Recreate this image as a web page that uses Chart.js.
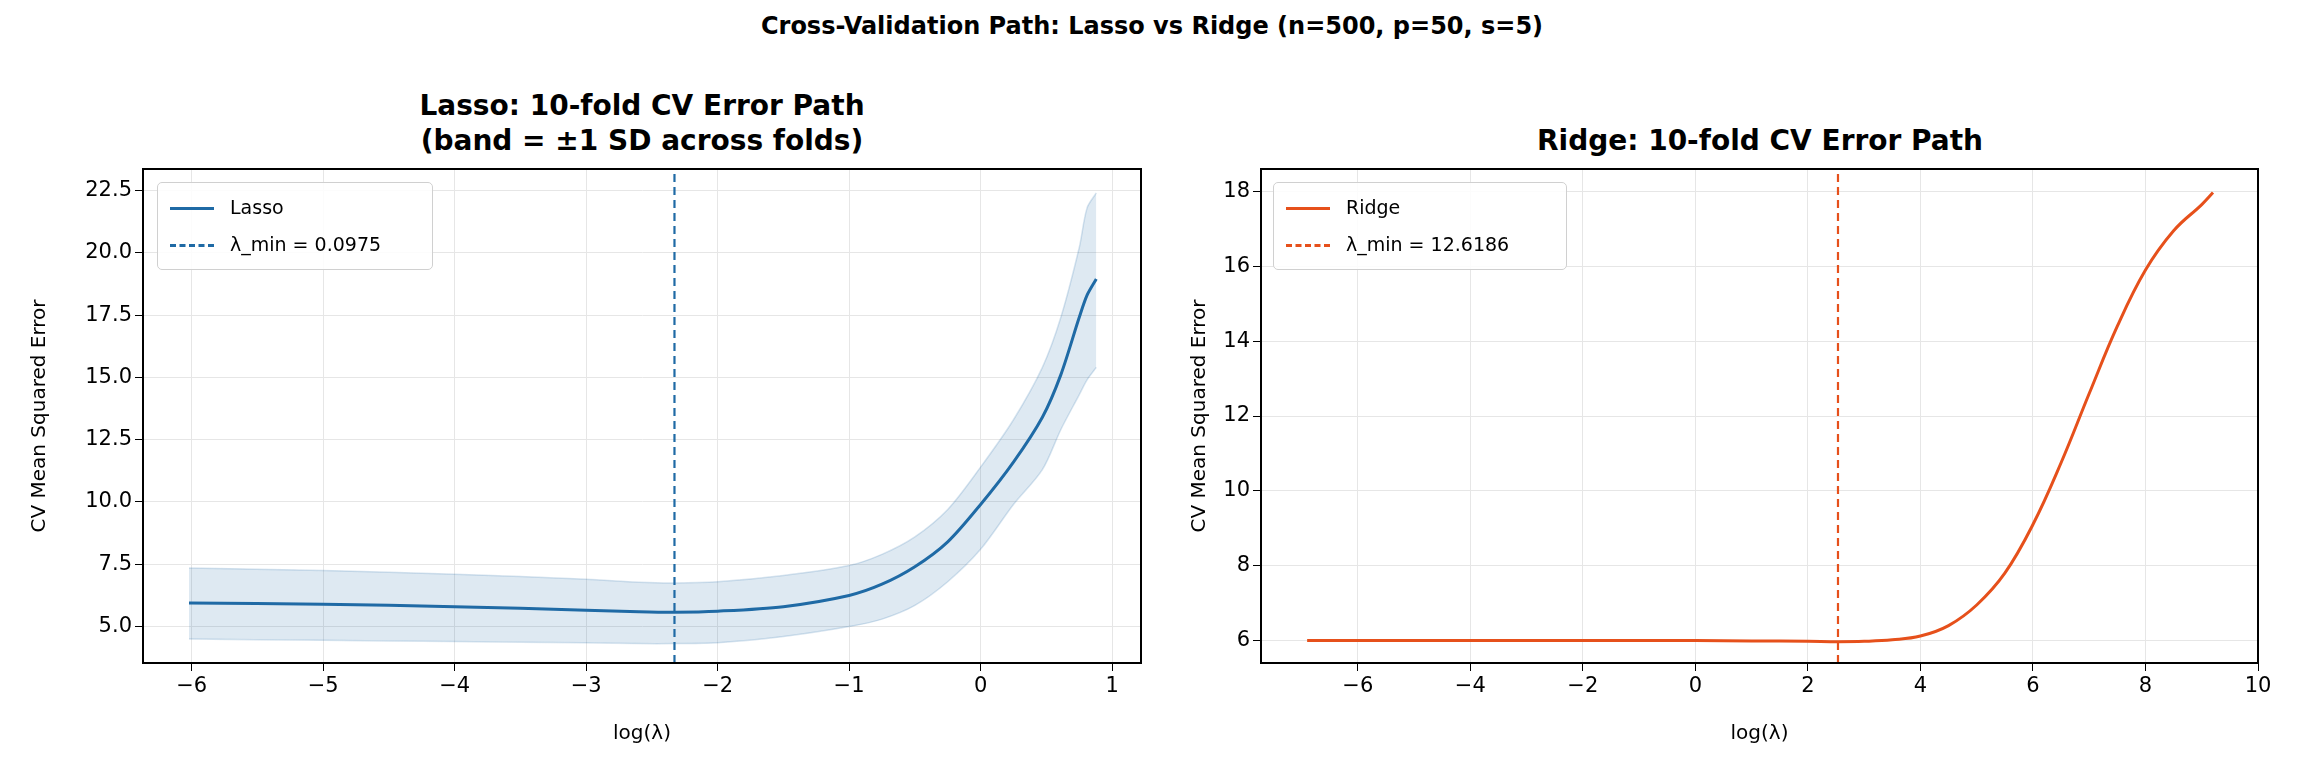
<!DOCTYPE html>
<html>
<head>
<meta charset="utf-8">
<script src="https://cdn.jsdelivr.net/npm/chart.js@4.4.0/dist/chart.umd.min.js"></script>
<style>
  body { margin: 0; background: #fff; font-family: "DejaVu Sans", sans-serif; }
  #page { position: relative; width: 2304px; height: 768px; overflow: hidden; }
  .box { position: absolute; top: 0; width: 1152px; height: 768px; }
  .txt { position: absolute; white-space: nowrap; transform: translateX(-50%); font-weight: bold; color: #000; text-align: center; }
  .legend { position: absolute; background: rgba(255,255,255,0.85); border: 1.5px solid #d0d0d0; border-radius: 5px;
            font-size: 19px; padding: 6px 12px; line-height: 37px; }
  .legend span.sw { display: inline-block; width: 44px; height: 0; vertical-align: middle; margin-right: 16px; }
</style>
</head>
<body>
<div id="page">
  <div class="txt" style="left:1152px; top:12px; font-size:24px;">Cross-Validation Path: Lasso vs Ridge (n=500, p=50, s=5)</div>
  <div class="txt" style="left:642px; top:88px; font-size:28px; line-height:35px;">Lasso: 10-fold CV Error Path<br>(band = ±1 SD across folds)</div>
  <div class="txt" style="left:1760px; top:123px; font-size:28px; line-height:35px;">Ridge: 10-fold CV Error Path</div>
  <div class="box" style="left:0"><canvas id="lasso"></canvas></div>
  <div class="box" style="left:1152px"><canvas id="ridge"></canvas></div>
  <div class="legend" style="left:157px; top:182px; width:250px;">
    <div><span class="sw" style="border-top:3px solid #1f6aa5"></span>Lasso</div>
    <div><span class="sw" style="border-top:3px dashed #1f6aa5"></span>λ_min = 0.0975</div>
  </div>
  <div class="legend" style="left:1273px; top:182px; width:268px;">
    <div><span class="sw" style="border-top:3px solid #e6501b"></span>Ridge</div>
    <div><span class="sw" style="border-top:3px dashed #e6501b"></span>λ_min = 12.6186</div>
  </div>
</div>
<script>
// Lasso CV path (log lambda, mean, ±1 SD)
const lassoX     = [-6.02, -5, -4, -3, -2.6, -2.33, -2, -1.5, -1, -0.75, -0.5, -0.25, 0, 0.25, 0.47, 0.61, 0.75, 0.81, 0.88];
const lassoMean  = [5.95, 5.9, 5.8, 5.66, 5.6, 5.58, 5.62, 5.8, 6.25, 6.7, 7.4, 8.4, 9.9, 11.6, 13.4, 15.1, 17.4, 18.3, 18.95];
const lassoUpper = [7.35, 7.25, 7.1, 6.9, 6.78, 6.75, 6.8, 7.05, 7.45, 7.9, 8.6, 9.7, 11.4, 13.3, 15.4, 17.4, 20.2, 21.8, 22.4];
const lassoLower = [4.5, 4.45, 4.4, 4.35, 4.32, 4.32, 4.35, 4.6, 5.0, 5.3, 5.85, 6.8, 8.1, 9.9, 11.3, 12.9, 14.3, 14.9, 15.4];
const lassoLamMin = -2.328;   // log(0.0975)

// Ridge CV path
const ridgeX    = [-6.9, -4, -2, 0, 1, 2, 2.54, 3, 3.5, 4, 4.5, 5, 5.5, 6, 6.5, 7, 7.5, 8, 8.5, 9, 9.2];
const ridgeMean = [6.0, 6.0, 6.0, 6.0, 5.99, 5.98, 5.97, 5.98, 6.02, 6.12, 6.4, 6.95, 7.8, 9.1, 10.75, 12.6, 14.4, 15.9, 16.95, 17.65, 17.97];
const ridgeLamMin = 2.535;    // log(12.6186)

const lassoRange = { xmin: -6.37, xmax: 1.22, ymin: 3.54, ymax: 23.36 };
const ridgeRange = { xmin: -7.72, xmax: 10, ymin: 5.4, ymax: 18.6 };

const pts = (xs, ys) => xs.map((x, i) => ({ x: x, y: ys[i] }));
const tickFont = { family: "DejaVu Sans", size: 21 };
const labelFont = { family: "DejaVu Sans", size: 20 };

function makeOptions(r, xStep, yStep, padRight, yDigits, yAxisW, yTitlePad) {
  return {
    responsive: false, animation: false, maintainAspectRatio: false,
    layout: { padding: { left: 0, right: padRight, top: 169, bottom: 0 } },
    plugins: { legend: { display: false }, tooltip: { enabled: false } },
    elements: { point: { radius: 0 } },
    scales: {
      x: {
        type: 'linear', min: r.xmin, max: r.xmax,
        afterBuildTicks: a => { const t = []; for (let v = Math.ceil(r.xmin / xStep) * xStep; v <= r.xmax + 1e-9; v += xStep) t.push({ value: +v.toFixed(6) }); a.ticks = t; },
        afterFit: a => { a.height = 105; },
        ticks: { font: tickFont, color: '#000', callback: v => String(v).replace('-', '\u2212') },
        grid: { color: '#e6e6e6', tickColor: '#000', tickLength: 8 },
        border: { color: '#000', width: 2 },
        title: { display: true, text: 'log(λ)', font: labelFont, color: '#000', padding: { top: 4, bottom: 22 } }
      },
      y: {
        min: r.ymin, max: r.ymax,
        afterBuildTicks: a => { const t = []; for (let v = Math.ceil(r.ymin / yStep) * yStep; v <= r.ymax + 1e-9; v += yStep) t.push({ value: +v.toFixed(6) }); a.ticks = t; },
        afterFit: a => { a.width = yAxisW; },
        ticks: { font: tickFont, color: '#000', callback: v => v.toFixed(yDigits) },
        grid: { color: '#e6e6e6', tickColor: '#000', tickLength: 8 },
        border: { color: '#000', width: 2 },
        title: { display: true, text: 'CV Mean Squared Error', font: labelFont, color: '#000', padding: { top: yTitlePad, bottom: 4 } }
      }
    }
  };
}

// top/right spines
const frame = {
  id: 'frame',
  afterDatasetsDraw(chart) {
    const { ctx, chartArea: a } = chart;
    ctx.save(); ctx.strokeStyle = '#000'; ctx.lineWidth = 2;
    ctx.strokeRect(a.left, a.top, a.right - a.left, a.bottom - a.top);
    ctx.restore();
  }
};

function setup(id) {
  const c = document.getElementById(id);
  c.width = 1152; c.height = 768;
  return c;
}

new Chart(setup('lasso'), {
  type: 'line',
  data: {
    datasets: [
      { data: pts(lassoX, lassoUpper), borderColor: 'rgba(31,106,165,0.18)', borderWidth: 1.5, backgroundColor: 'rgba(31,106,165,0.15)', fill: '+1', tension: 0.3 },
      { data: pts(lassoX, lassoLower), borderColor: 'rgba(31,106,165,0.18)', borderWidth: 1.5, fill: false, tension: 0.3 },
      { data: pts(lassoX, lassoMean), borderColor: '#1f6aa5', borderWidth: 3, fill: false, tension: 0.3 },
      { data: [{ x: lassoLamMin, y: lassoRange.ymin }, { x: lassoLamMin, y: lassoRange.ymax }], borderColor: '#1f6aa5', borderWidth: 2.2, borderDash: [8, 5], fill: false }
    ]
  },
  options: makeOptions(lassoRange, 1, 2.5, 11, 1, 143, 28),
  plugins: [frame]
});

new Chart(setup('ridge'), {
  type: 'line',
  data: {
    datasets: [
      { data: pts(ridgeX, ridgeMean), borderColor: '#e6501b', borderWidth: 3, fill: false, tension: 0.4 },
      { data: [{ x: ridgeLamMin, y: ridgeRange.ymin }, { x: ridgeLamMin, y: ridgeRange.ymax }], borderColor: '#e6501b', borderWidth: 2.2, borderDash: [8, 5], fill: false }
    ]
  },
  options: makeOptions(ridgeRange, 2, 2, 46, 0, 109, 36),
  plugins: [frame]
});
</script>
</body>
</html>
